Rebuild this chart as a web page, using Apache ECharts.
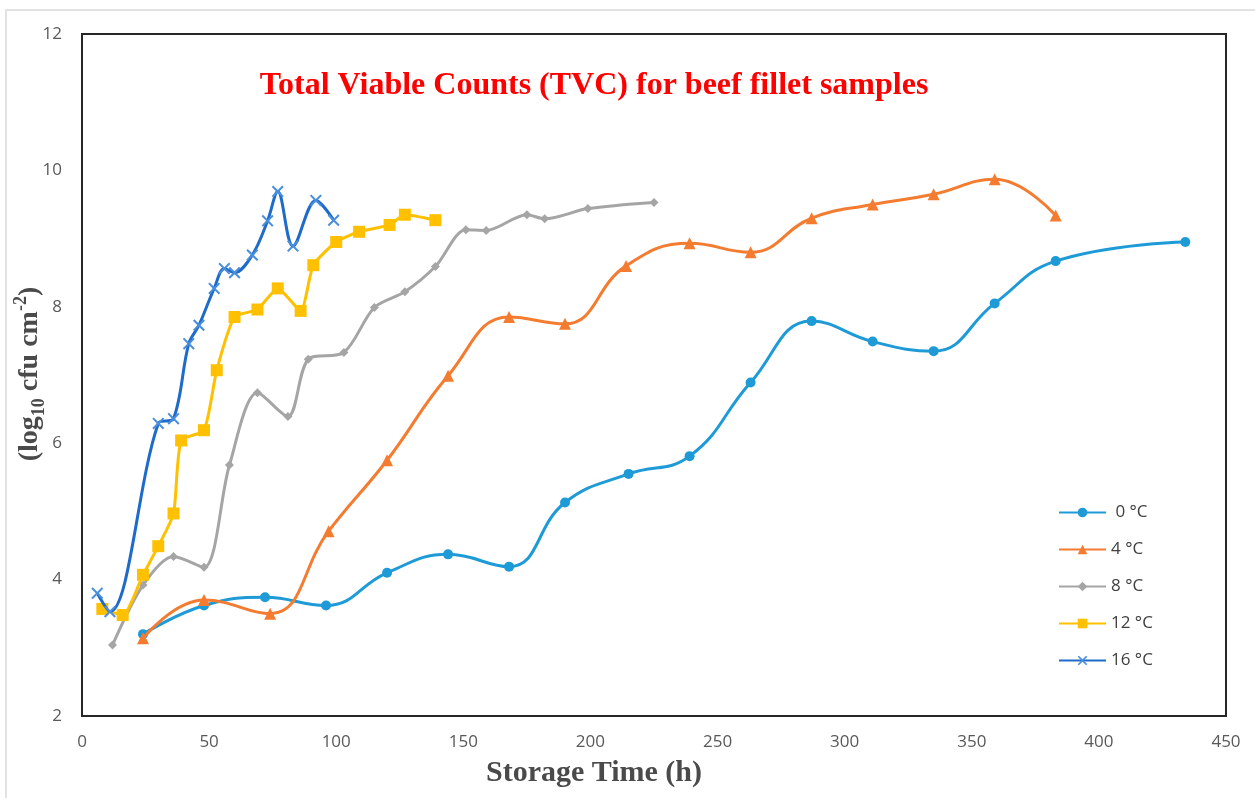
<!DOCTYPE html>
<html><head><meta charset="utf-8">
<script src="https://cdn.jsdelivr.net/npm/echarts@6/dist/echarts.min.js"></script>
<style>html,body{margin:0;padding:0;background:#fff}#c{width:1255px;height:798px}</style>
</head><body><div id="c"></div>
<script>
const seriesNames = [' 0 °C', '4 °C', '8 °C', '12 °C', '16 °C'];
const xTicks = [0, 50, 100, 150, 200, 250, 300, 350, 400, 450];
const yTicks = [2, 4, 6, 8, 10, 12];

const t0 = [24, 48, 72, 96, 120, 144, 168, 190, 215, 239, 263, 287, 311, 335, 359, 383, 434];
const v0 = [3.2, 3.62, 3.74, 3.62, 4.1, 4.37, 4.19, 5.13, 5.55, 5.81, 6.89, 7.79, 7.49, 7.35, 8.05, 8.67, 8.95];

const t4 = [24, 48, 74, 97, 120, 144, 168, 190, 214, 239, 263, 287, 311, 335, 359, 383];
const v4 = [3.14, 3.7, 3.5, 4.71, 5.75, 6.99, 7.85, 7.75, 8.6, 8.93, 8.8, 9.3, 9.5, 9.65, 9.87, 9.34];

const t8 = [12, 24, 36, 48, 58, 69, 81, 89, 103, 115, 127, 139, 151, 159, 175, 182, 199, 225];
const v8 = [3.04, 3.92, 4.34, 4.18, 5.68, 6.74, 6.39, 7.23, 7.33, 7.99, 8.22, 8.59, 9.13, 9.12, 9.35, 9.29, 9.44, 9.53];

const t12 = [8, 16, 24, 30, 36, 39, 48, 53, 60, 69, 77, 86, 91, 100, 109, 121, 127, 139];
const v12 = [3.57, 3.48, 4.07, 4.49, 4.97, 6.04, 6.19, 7.07, 7.85, 7.96, 8.27, 7.94, 8.61, 8.95, 9.1, 9.2, 9.35, 9.27];

const t16 = [6, 11, 30, 36, 42, 46, 52, 56, 60, 67, 73, 77, 83, 92, 99];
const v16 = [3.8, 3.53, 6.29, 6.36, 7.46, 7.73, 8.27, 8.56, 8.5, 8.76, 9.26, 9.69, 8.89, 9.56, 9.27];

const pairs = (t, v) => t.map((x, i) => [x, v[i]]);
const xPath = 'path://M0,1.2L1.2,0L5,3.8L8.8,0L10,1.2L6.2,5L10,8.8L8.8,10L5,6.2L1.2,10L0,8.8L3.8,5Z';

const defs = [
  { data: pairs(t0, v0), color: '#1E9BD7', symbol: 'circle', size: 10, smooth: 0.45 },
  { data: pairs(t4, v4), color: '#F47C30', symbol: 'triangle', size: 12, smooth: 0.45 },
  { data: pairs(t8, v8), color: '#A5A5A5', symbol: 'diamond', size: 9, smooth: 0.3 },
  { data: pairs(t12, v12), color: '#FFC000', symbol: 'rect', size: 12, smooth: 0.2 },
  { data: pairs(t16, v16), color: '#1F6BC9', symbol: xPath, size: 12, smooth: 0.35, markColor: '#4A8FDB' }
];

const axisTitleColor = '#4A4A4A';
const chart = echarts.init(document.getElementById('c'), null, { renderer: 'canvas' });
chart.setOption({
  backgroundColor: '#fff',
  animation: false,
  grid: { left: 82, right: 29, top: 34, bottom: 82, show: true, borderColor: '#262626', borderWidth: 2, backgroundColor: 'transparent' },
  legend: {
    orient: 'vertical', left: 1058, top: 504, padding: 0,
    itemWidth: 47, itemHeight: 12, itemGap: 20,
    textStyle: { fontFamily: 'Open Sans', fontSize: 17, color: '#404040' },
    data: seriesNames
  },
  xAxis: {
    type: 'value', min: 0, max: 450, interval: 50,
    axisLine: { show: false }, axisTick: { show: false }, splitLine: { show: false },
    axisLabel: { margin: 18, fontFamily: 'Open Sans', fontSize: 17, color: '#595959',
      formatter: v => (xTicks.includes(v) ? String(v) : '') }
  },
  yAxis: {
    type: 'value', min: 2, max: 12, interval: 2,
    axisLine: { show: false }, axisTick: { show: false }, splitLine: { show: false },
    axisLabel: { margin: 20, fontFamily: 'Open Sans', fontSize: 17, color: '#595959',
      formatter: v => (yTicks.includes(v) ? String(v) : '') }
  },
  graphic: [
    { type: 'rect', shape: { x: 6, y: 10, width: 1260, height: 800 }, style: { fill: 'none', stroke: '#D9D9D9', lineWidth: 1.5 }, silent: true, z: -10 },
    {
      type: 'text', x: 594, y: 86,
      style: {
        text: 'Total Viable Counts (TVC) for beef fillet samples',
        align: 'center', verticalAlign: 'middle',
        fontFamily: 'Liberation Serif', fontWeight: 'bold', fontSize: 32, fill: '#FF0000'
      }
    },
    {
      type: 'text', x: 594, y: 773,
      style: {
        text: 'Storage Time (h)',
        align: 'center', verticalAlign: 'middle',
        fontFamily: 'Liberation Serif', fontWeight: 'bold', fontSize: 30, fill: axisTitleColor
      }
    },
    {
      type: 'text', x: 30, y: 374, rotation: Math.PI / 2,
      style: {
        text: '{a|(log}{s|10}{a| cfu cm}{p|-2}{a|)}',
        align: 'center', verticalAlign: 'middle',
        rich: {
          a: { fontFamily: 'Liberation Serif', fontWeight: 'bold', fontSize: 28, fill: axisTitleColor, color: axisTitleColor, lineHeight: 36 },
          s: { fontFamily: 'Liberation Serif', fontWeight: 'bold', fontSize: 18, fill: axisTitleColor, color: axisTitleColor, lineHeight: 18, verticalAlign: 'bottom' },
          p: { fontFamily: 'Liberation Serif', fontWeight: 'bold', fontSize: 18, fill: axisTitleColor, color: axisTitleColor, lineHeight: 18, verticalAlign: 'top' }
        }
      }
    }
  ],
  series: defs.map((d, i) => ({
    name: seriesNames[i], type: 'line', data: d.data, smooth: d.smooth,
    symbol: d.symbol, symbolSize: d.size, showAllSymbol: true,
    lineStyle: { color: d.color, width: 3 },
    itemStyle: { color: d.markColor || d.color },
    z: 2 + i
  }))
});
</script></body></html>
